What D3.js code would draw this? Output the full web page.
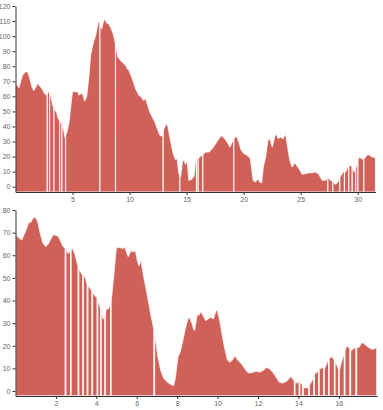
<!DOCTYPE html>
<html>
<head>
<meta charset="utf-8">
<script src="https://cdn.jsdelivr.net/npm/d3@7"></script>
<style>
  html, body { margin: 0; padding: 0; background: #fff; }
  svg { display: block; }
  .axis text { font-family: "Liberation Sans", Arial, sans-serif; font-size: 7px; fill: #666; }
  .axis path, .axis line { stroke: #333; }
</style>
</head>
<body>
<script>
// ---------- data ----------
const topX = [0,0.30,0.59,0.89,1.09,1.26,1.47,1.61,1.76,1.97,2.14,2.35,2.55,2.73,2.93,3.08,3.28,3.43,3.60,3.72,3.89,4.10,4.24,4.33,4.48,4.68,4.83,4.98,5.18,5.35,5.47,5.56,5.71,5.91,6.06,6.23,6.44,6.58,6.79,7.02,7.25,7.40,7.55,7.69,7.81,7.98,8.19,8.39,8.57,8.77,8.98,9.21,9.50,9.65,9.80,9.94,10.24,10.53,10.82,11.03,11.20,11.40,11.55,11.78,11.99,12.22,12.43,12.66,12.80,13.01,13.22,13.36,13.59,13.83,14.03,14.18,14.32,14.47,14.62,14.76,14.91,15.06,15.20,15.41,15.64,15.78,15.99,16.22,16.46,16.66,16.95,17.25,17.54,17.83,18.06,18.33,18.56,18.79,18.94,19.14,19.38,19.58,19.79,20.02,20.32,20.60,20.84,21.04,21.24,21.42,21.57,21.72,21.92,22.12,22.30,22.51,22.71,22.88,23.03,23.23,23.44,23.67,23.82,24.05,24.26,24.49,24.70,24.93,25.14,25.42,25.71,26.01,26.30,26.59,26.89,27.18,27.38,27.62,27.85,28.05,28.26,28.49,28.73,28.93,29.13,29.37,29.51,29.72,29.89,30.10,30.31,30.48,30.68,30.88,31.06,31.27,31.47,31.56];
const topY = [69,66,74,76.8,76,72,66,64,66,69,67,65,62,61,63.5,61,54,51,50,46,43.5,42,37.5,33,36,42.5,53,63,63.5,63,63.5,61,62,61.5,57,60,74,87.5,95,100.7,109.6,109.6,105,109.6,111.8,109,108,105,101.7,95,86.3,84,81.9,80.8,78.6,77.5,72,65.3,60.9,59.8,57.6,58.7,55.4,49.8,46.5,43.2,38.8,34.3,33.7,38.8,42.1,40.3,31,22.2,18.2,18.9,8.9,6.6,16.6,18.2,15.1,17.7,4.4,4.9,7.1,17.7,18.9,20.4,21.7,23.2,23.2,25.5,28.8,32.1,34.3,32.1,29.9,26.6,28.8,32.1,33.7,29.9,24.4,22.2,21,18.9,4.4,3.3,5.5,3.3,2.7,13.3,19.9,31,32.1,26.6,33.2,35.4,32.1,33.2,32.1,35.4,28.8,17.7,13.3,16.2,13.9,11.1,8.4,8.9,9.3,9.3,10,8.4,4.4,4.4,6.6,4.4,3.3,1.8,3.3,7.1,10,10,13.3,14.4,13.3,10,14,19.9,18.9,18.2,19.9,21.5,21,19.9,19.4,20.4];
const topBreaks = [2.79,2.99,3.37,3.87,4.07,4.39,7.40,8.77,12.95,14.41,15.87,16.02,16.42,19.14,27.38,27.82,28.43,28.84,29.22,29.52,29.82,30.02,30.54];
const topXTicks = [5,10,15,20,25,30];
const topYTicks = [0,10,20,30,40,50,60,70,80,90,100,110,120];

const botX = [0,0.13,0.30,0.47,0.63,0.75,0.88,1.01,1.12,1.24,1.37,1.50,1.62,1.74,1.87,2.00,2.13,2.23,2.36,2.50,2.61,2.73,2.83,2.94,3.05,3.19,3.32,3.44,3.55,3.68,3.82,3.93,4.04,4.14,4.26,4.34,4.48,4.59,4.71,4.84,4.97,5.08,5.20,5.33,5.42,5.58,5.71,5.83,5.95,6.04,6.11,6.21,6.32,6.44,6.57,6.70,6.82,6.94,7.06,7.20,7.36,7.53,7.69,7.81,7.89,8.02,8.14,8.25,8.39,8.52,8.63,8.75,8.85,8.97,9.08,9.18,9.29,9.41,9.54,9.67,9.79,9.91,10.00,10.12,10.23,10.37,10.50,10.61,10.73,10.86,11.00,11.11,11.22,11.36,11.49,11.60,11.77,11.92,12.08,12.25,12.41,12.58,12.74,12.91,13.07,13.20,13.32,13.45,13.60,13.70,13.82,13.93,14.06,14.18,14.31,14.43,14.56,14.69,14.81,14.92,15.05,15.18,15.30,15.42,15.55,15.66,15.80,15.91,16.01,16.12,16.24,16.37,16.49,16.62,16.74,16.87,17.00,17.11,17.23,17.36,17.50,17.66,17.78,17.89];
const botY = [70,68.2,67,70.4,74.4,74.8,77,76.8,74.8,69.7,65.5,64.1,65.3,67.5,69.4,69,68.5,66.7,64.1,63.1,61.1,62.3,63.3,61.1,57.1,53.5,51.3,50.8,47.6,45.8,43.9,42.4,41.4,38.8,35.8,32.1,36.1,36.6,38.8,50.5,63.1,63.8,63.5,63.3,63.8,59.7,62.3,61.6,62.3,57.9,55.7,58.6,52.7,46.9,41,34.3,29.2,23.3,15.2,9.3,5.6,4.1,3.1,2.5,5.6,15.2,17.4,21.8,27.7,32.1,32.6,29.9,27,33.6,33.9,35.5,33.6,31.4,32.1,32.8,32.1,35.8,35.8,31.4,25.5,18.9,14,13,14,15.9,14,13,11.9,10,8.5,8.1,8.5,9,8.5,9.3,10.7,10,8.5,6.3,4.1,3.7,4.1,4.9,6.6,5.9,4.6,3.7,4.9,3.1,1.6,1.6,3.1,5.2,7.8,8.5,10,10.5,10.3,13,14.9,15.5,13.7,11.8,9.3,13,16.4,20,19.6,18.1,19.1,19.3,19.6,21.4,21.4,20.3,19.3,18.6,18.9,19.9];
const botBreaks = [2.48,2.74,3.12,3.35,3.57,3.80,4.06,4.23,4.44,4.72,6.87,13.82,14.06,14.23,14.53,14.78,15.02,15.27,15.51,15.80,16.01,16.29,16.57,16.87];
const botXTicks = [2,4,6,8,10,12,14,16];
const botYTicks = [0,10,20,30,40,50,60,70,80];

const FILL = "rgb(207,97,88)";
const W = 383, H = 410;

const svg = d3.select("body").append("svg").attr("width", W).attr("height", H);

function interp(xs, ys, t) {
  for (let i = 0; i < xs.length - 1; i++) {
    if (t >= xs[i] && t <= xs[i + 1]) {
      const f = (t - xs[i]) / (xs[i + 1] - xs[i]);
      return ys[i] + f * (ys[i + 1] - ys[i]);
    }
  }
  return ys[ys.length - 1];
}

function drawChart(cfg) {
  const { xs, ys, breaks, xDomain, yDomain, xRange, yRange, xTicks, yTicks, strokeW } = cfg;
  const x = d3.scaleLinear().domain(xDomain).range(xRange);
  const y = d3.scaleLinear().domain(yDomain).range(yRange);
  const g = svg.append("g");

  const bounds = [xDomain[0], ...breaks, xDomain[1]];
  const segments = [];
  for (let i = 0; i < bounds.length - 1; i++) {
    const a = bounds[i], b = bounds[i + 1];
    const pts = [[a, interp(xs, ys, a)]];
    xs.forEach((v, k) => { if (v > a && v < b) pts.push([v, ys[k]]); });
    pts.push([b, interp(xs, ys, b)]);
    segments.push(pts);
  }

  const area = d3.area()
    .x(d => x(d[0]))
    .y0(y(yDomain[0]))
    .y1(d => y(d[1]));

  g.selectAll("path.seg").data(segments).join("path")
    .attr("class", "seg")
    .attr("d", area)
    .attr("fill", FILL)
    .attr("stroke", "#fff")
    .attr("stroke-opacity", 0.85)
    .attr("stroke-width", strokeW)
    .attr("stroke-linejoin", "round");

  g.append("g").attr("class", "axis")
    .attr("transform", `translate(0,${yRange[0]})`)
    .call(d3.axisBottom(x).tickValues(xTicks).tickSize(3).tickSizeOuter(0).tickPadding(2));

  g.append("g").attr("class", "axis")
    .attr("transform", `translate(${xRange[0]},0)`)
    .call(d3.axisLeft(y).tickValues(yTicks).tickSize(3).tickSizeOuter(0).tickPadding(2));
}

drawChart({
  xs: topX, ys: topY, breaks: topBreaks,
  xDomain: [0, 31.56], yDomain: [-3.5, 120],
  xRange: [15.5, 375.5], yRange: [192, 6],
  xTicks: topXTicks, yTicks: topYTicks, strokeW: 1.2
});

drawChart({
  xs: botX, ys: botY, breaks: botBreaks,
  xDomain: [0, 17.89], yDomain: [-2.2, 80],
  xRange: [15.5, 377], yRange: [396, 210],
  xTicks: botXTicks, yTicks: botYTicks, strokeW: 1.7
});
</script>
</body>
</html>
